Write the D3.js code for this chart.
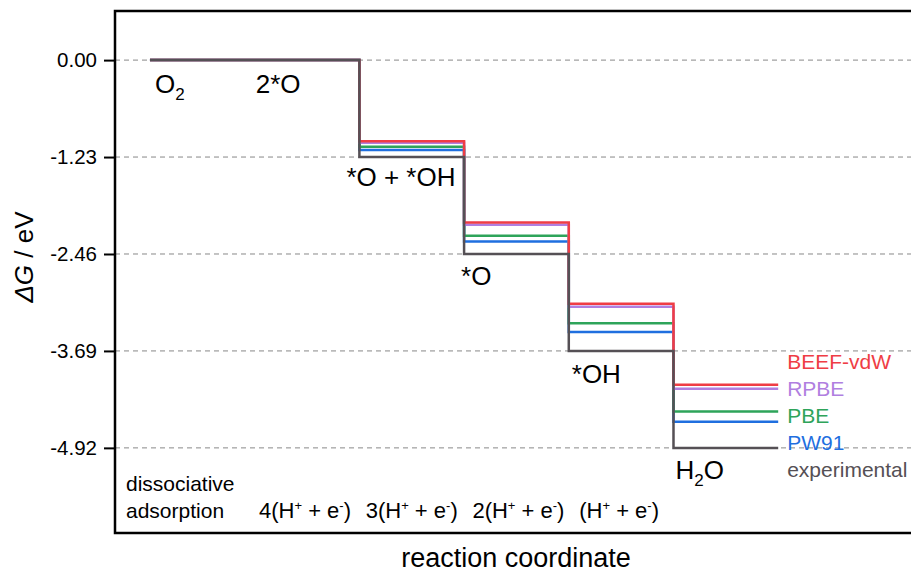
<!DOCTYPE html>
<html>
<head>
<meta charset="utf-8">
<script src="https://cdn.jsdelivr.net/npm/d3@7"></script>
<style>
  body { margin: 0; background: #fff; }
  text { font-family: "Liberation Sans", Arial, sans-serif; }
</style>
</head>
<body>
<div class="chart"></div>
<script>
const svgWidth = 911;
const svgHeight = 574;

const margin = { top: 11, right: -3, bottom: 41, left: 115 };
const width = svgWidth - margin.left - margin.right;
const height = svgHeight - margin.top - margin.bottom;

// step boundaries along reaction coordinate (O2/2*O share the first, double-width step)
const stepEdges = [0, 2, 3, 4, 5, 6];
const stepNames = ['2*O', '*O + *OH', '*O', '*OH', 'H2O'];

// free energies (eV) of each step for each functional
const seriesNames = ['PW91', 'PBE', 'RPBE', 'BEEF-vdW', 'experimental'];
const seriesColors = ['#1f6fdf', '#2ea45a', '#b07fe0', '#ef3d45', '#555055'];
const pw91 = [0, -1.14, -2.30, -3.45, -4.59];
const pbe = [0, -1.10, -2.23, -3.34, -4.46];
const rpbe = [0, -1.05, -2.09, -3.13, -4.17];
const beef = [0, -1.03, -2.06, -3.09, -4.12];
const experimental = [0, -1.23, -2.46, -3.69, -4.92];
const seriesValues = [pw91, pbe, rpbe, beef, experimental];

const yTicks = [0, -1.23, -2.46, -3.69, -4.92];
const protonLabels = ['4', '3', '2', ''];

const svg = d3.select('.chart')
  .append('svg')
  .attr('width', svgWidth)
  .attr('height', svgHeight);

const chartGroup = svg.append('g')
  .attr('transform', `translate(${margin.left}, ${margin.top})`);

const x = d3.scaleLinear()
  .domain([-0.334, 7.297])
  .range([0, width]);

const y = d3.scaleLinear()
  .domain([0.623, -6.0])
  .range([0, height]);

// dashed gridlines
chartGroup.selectAll('.grid')
  .data(yTicks)
  .enter()
  .append('line')
  .attr('x1', 0)
  .attr('x2', width)
  .attr('y1', d => y(d))
  .attr('y2', d => y(d))
  .attr('stroke', '#888')
  .attr('stroke-width', 1)
  .attr('stroke-dasharray', '5,4');

// left axis
const leftAxis = d3.axisLeft(y)
  .tickValues(yTicks)
  .tickFormat(d => d3.format('.2f')(d).replace('−', '-'))
  .tickSize(11)
  .tickSizeOuter(0);

const yAxisG = chartGroup.append('g').call(leftAxis);
yAxisG.select('.domain').remove();
yAxisG.selectAll('.tick line').attr('stroke', '#000').attr('stroke-width', 2);
yAxisG.selectAll('.tick text')
  .attr('x', -18)
  .attr('font-size', 20.5)
  .attr('font-family', '"Liberation Sans", Arial, sans-serif')
  .attr('fill', '#000');

// frame (top, left, bottom)
chartGroup.append('path')
  .attr('d', `M${width + 10},0 H0 V${height} H${width + 10}`)
  .attr('fill', 'none')
  .attr('stroke', '#000')
  .attr('stroke-width', 2.5);

// step lines
const stepLine = d3.line()
  .x(d => x(d[0]))
  .y(d => y(d[1]));

function stepPoints(vals) {
  const pts = [];
  vals.forEach((v, i) => {
    pts.push([stepEdges[i], v]);
    pts.push([stepEdges[i + 1], v]);
  });
  return pts;
}

chartGroup.selectAll('.step')
  .data(seriesValues)
  .enter()
  .append('path')
  .attr('d', d => stepLine(stepPoints(d)))
  .attr('fill', 'none')
  .attr('stroke', (d, i) => seriesColors[i])
  .attr('stroke-width', 2.5)
  .attr('stroke-linejoin', 'miter');

// species labels
const lab = chartGroup.append('g')
  .attr('font-size', 26)
  .attr('fill', '#000');

const o2 = lab.append('text')
  .attr('x', x(stepEdges[0]) + 5)
  .attr('y', y(0) + 33);
o2.append('tspan').text('O');
o2.append('tspan').attr('font-size', 17).attr('dy', 7).text('2');

lab.append('text')
  .attr('x', x(1) + 1)
  .attr('y', y(0) + 33)
  .text(stepNames[0]);

lab.append('text')
  .attr('x', x(stepEdges[1]) - 13)
  .attr('y', y(experimental[1]) + 29)
  .text(stepNames[1]);

lab.append('text')
  .attr('x', x(stepEdges[2]) - 3)
  .attr('y', y(experimental[2]) + 31)
  .text(stepNames[2]);

lab.append('text')
  .attr('x', x(stepEdges[3]) + 3)
  .attr('y', y(experimental[3]) + 32)
  .text(stepNames[3]);

const h2o = lab.append('text')
  .attr('x', x(stepEdges[4]) + 2)
  .attr('y', y(experimental[4]) + 31);
h2o.append('tspan').text('H');
h2o.append('tspan').attr('font-size', 17).attr('dy', 7).text('2');
h2o.append('tspan').attr('dy', -7).text('O');

// legend labels at right
const legendOrder = [3, 2, 1, 0, 4];
const legendY = [369, 396, 423, 450, 477];
chartGroup.selectAll('.leg')
  .data(legendOrder)
  .enter()
  .append('text')
  .attr('x', x(6) + 9)
  .attr('y', (d, i) => legendY[i] - margin.top)
  .attr('font-size', 21)
  .attr('fill', d => seriesColors[d])
  .text(d => seriesNames[d]);

// bottom annotations
const bot = chartGroup.append('g')
  .attr('font-size', 21)
  .attr('fill', '#000');

bot.append('text').attr('x', 11).attr('y', 491 - margin.top).text('dissociative');
bot.append('text').attr('x', 11).attr('y', 518 - margin.top).text('adsorption');

const protonShift = [-2, 0, 2, -2];
protonLabels.forEach((p, i) => {
  const t = bot.append('text')
    .attr('x', x(stepEdges[i + 1] - 0.5) + protonShift[i])
    .attr('y', 518 - margin.top)
    .attr('font-size', 22)
    .attr('text-anchor', 'middle');
  t.append('tspan').text(p + '(H');
  t.append('tspan').attr('font-size', 13).attr('dy', -8).text('+');
  t.append('tspan').attr('dy', 8).text(' + e');
  t.append('tspan').attr('font-size', 13).attr('dy', -8).text('-');
  t.append('tspan').attr('dy', 8).text(')');
});

// axis titles
chartGroup.append('text')
  .attr('x', 516 - margin.left)
  .attr('y', height + 34)
  .attr('text-anchor', 'middle')
  .attr('font-size', 27)
  .text('reaction coordinate');

const yt = chartGroup.append('text')
  .attr('transform', `translate(${33 - margin.left}, ${257 - margin.top}) rotate(-90)`)
  .attr('text-anchor', 'middle')
  .attr('font-size', 26);
yt.append('tspan').attr('font-style', 'italic').text('ΔG');
yt.append('tspan').text(' / eV');
</script>
</body>
</html>
